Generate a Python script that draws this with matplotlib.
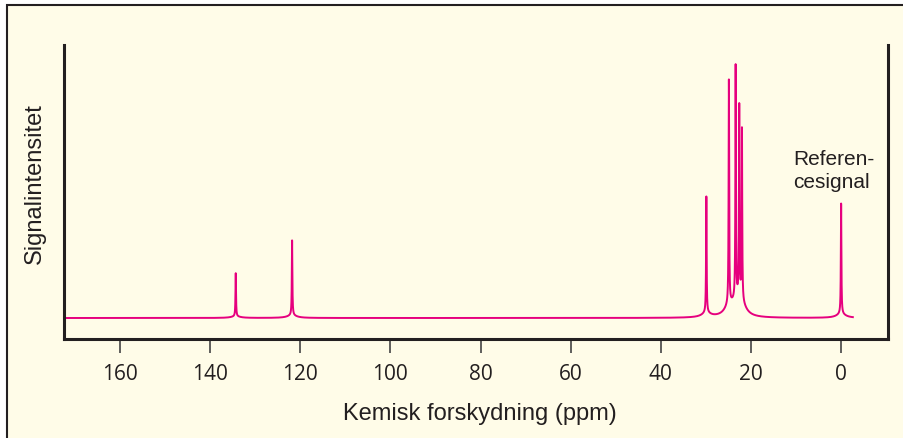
import numpy as np
import matplotlib
matplotlib.use("Agg")
import matplotlib.pyplot as plt
from matplotlib.patches import Rectangle

# peak positions (ppm) and heights
peak_ppm = [134.3, 121.8, 29.9, 24.9, 23.4, 22.6, 22.0, 0.0]
peak_height = [45, 78, 121, 233, 242, 199, 178, 115]
ppm_start, ppm_end = 172.0, -2.6

xticks = [160, 140, 120, 100, 80, 60, 40, 20, 0]

bg = "#fffce8"
ink = "#231f20"
pink = "#e6007e"

fig = plt.figure(figsize=(9.04, 4.39), dpi=100, facecolor="white")
fig.patches.append(Rectangle((7 / 904, -0.2), 2.0, (439 - 6) / 439 + 0.2,
                             transform=fig.transFigure, facecolor=bg,
                             edgecolor=ink, linewidth=1.5, zorder=-10))

ax = fig.add_axes([64 / 904, (439 - 340) / 439, (888 - 64) / 904, (340 - 46) / 439])
ax.set_facecolor(bg)

# line shape: narrow lorentzian plus a small broad foot under each peak
x = np.linspace(ppm_start, ppm_end, 60000)
y = np.zeros_like(x)
w1, w2 = 0.07, 1.2
for p, h in zip(peak_ppm, peak_height):
    y += h * 0.96 * w1**2 / (w1**2 + (x - p) ** 2)
    y += h * 0.035 * w2**2 / (w2**2 + (x - p) ** 2)
ax.plot(x, y, color=pink, lw=1.4)

ax.set_xlim(172.4, -10.4)
ax.set_ylim(-21, 273)
ax.spines["top"].set_visible(False)
for s in ["left", "right", "bottom"]:
    ax.spines[s].set_linewidth(2.2)
    ax.spines[s].set_color(ink)
ax.set_yticks([])
ax.set_xticks(xticks)
ax.set_xticklabels([str(t) for t in xticks], family="Open Sans", fontsize=15, color=ink)
ax.tick_params(axis="x", direction="out", length=10, width=1.2, color="#444444", pad=7)

ax.set_xlabel("Kemisk forskydning (ppm)", family="Liberation Sans", fontsize=17,
              color=ink)
ax.xaxis.set_label_coords((480 - 64) / 824, -(403 - 340) / 294)
ax.set_ylabel("Signalintensitet", family="Liberation Sans", fontsize=17,
              color=ink, va="center")
ax.yaxis.set_label_coords(-(64 - 35) / 824, (340 - 184) / 294)

ax.text(793 / 904, (439 - 171) / 439, "Referen-\ncesignal", transform=fig.transFigure,
        family="Liberation Sans", fontsize=15, color=ink, ha="left", va="center",
        linespacing=1.25)

fig.savefig("out.png", dpi=100, facecolor="white")
